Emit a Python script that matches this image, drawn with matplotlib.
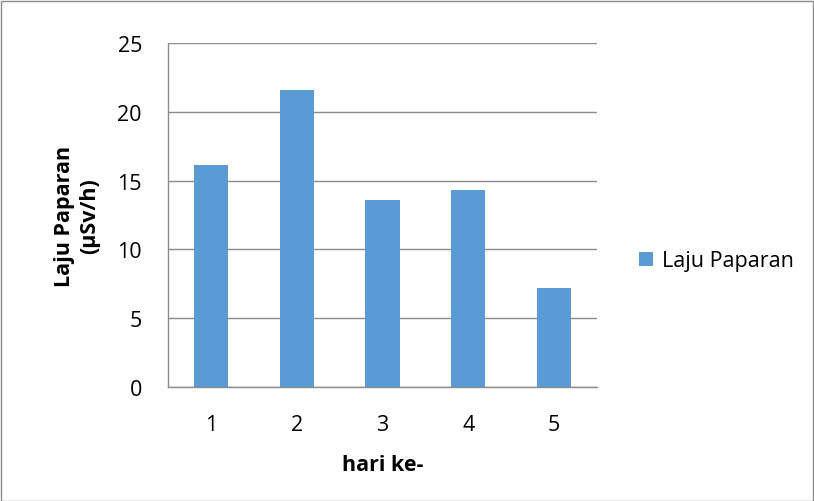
import matplotlib
matplotlib.use('Agg')
import matplotlib.pyplot as plt
from matplotlib.patches import Rectangle

days = ['1', '2', '3', '4', '5']
laju = [16.1, 21.55, 13.6, 14.3, 7.2]
yticks = [0, 5, 10, 15, 20, 25]

plt.rcParams['font.family'] = ['Open Sans', 'DejaVu Sans']
fs = 15.5

fig = plt.figure(figsize=(8.14, 5.02), dpi=100)
ax = fig.add_axes([0.2068, 0.2265, 0.5262, 0.6865])

x = range(len(days))
ax.bar(x, laju, width=0.40, color='#5B9BD5', label='Laju Paparan', zorder=3)

ax.set_xlim(-0.5, len(days) - 0.5)
ax.set_ylim(0, 25)
ax.set_yticks(yticks)
ax.set_yticklabels([str(v) for v in yticks])
ax.set_xticks(list(x))
ax.set_xticklabels(days)
ax.tick_params(axis='y', length=0, pad=19, labelsize=fs)
ax.tick_params(axis='x', length=0, pad=19, labelsize=fs)

ax.grid(axis='y', color='#8c8c8c', linewidth=1.0, zorder=0)
for side in ['top', 'right']:
    ax.spines[side].set_visible(False)
for side in ['left', 'bottom']:
    ax.spines[side].set_color('#8c8c8c')
    ax.spines[side].set_linewidth(1.0)

# axis titles
fig.text(77 / 814, 1 - 216 / 502, 'Laju Paparan\n(µSv/h)', rotation=90,
         ha='center', va='center', fontsize=fs, fontweight='bold',
         linespacing=1.25)
fig.text(383 / 814, 1 - 466 / 502, 'hari ke-', ha='center', va='center',
         fontsize=fs, fontweight='bold')

ax.legend(loc='center left', bbox_to_anchor=(639 / 814, 1 - 262 / 502),
          bbox_transform=fig.transFigure, frameon=False, fontsize=fs,
          borderpad=0, borderaxespad=0,
          handlelength=0.65, handleheight=0.65, handletextpad=0.4)

# chart border
fig.patches.append(Rectangle((0.5 / 814, 0.5 / 502), 812 / 814, 500 / 502,
                             transform=fig.transFigure, fill=False,
                             edgecolor='#8c8c8c', linewidth=1.0))

fig.savefig('out.png', dpi=100)
